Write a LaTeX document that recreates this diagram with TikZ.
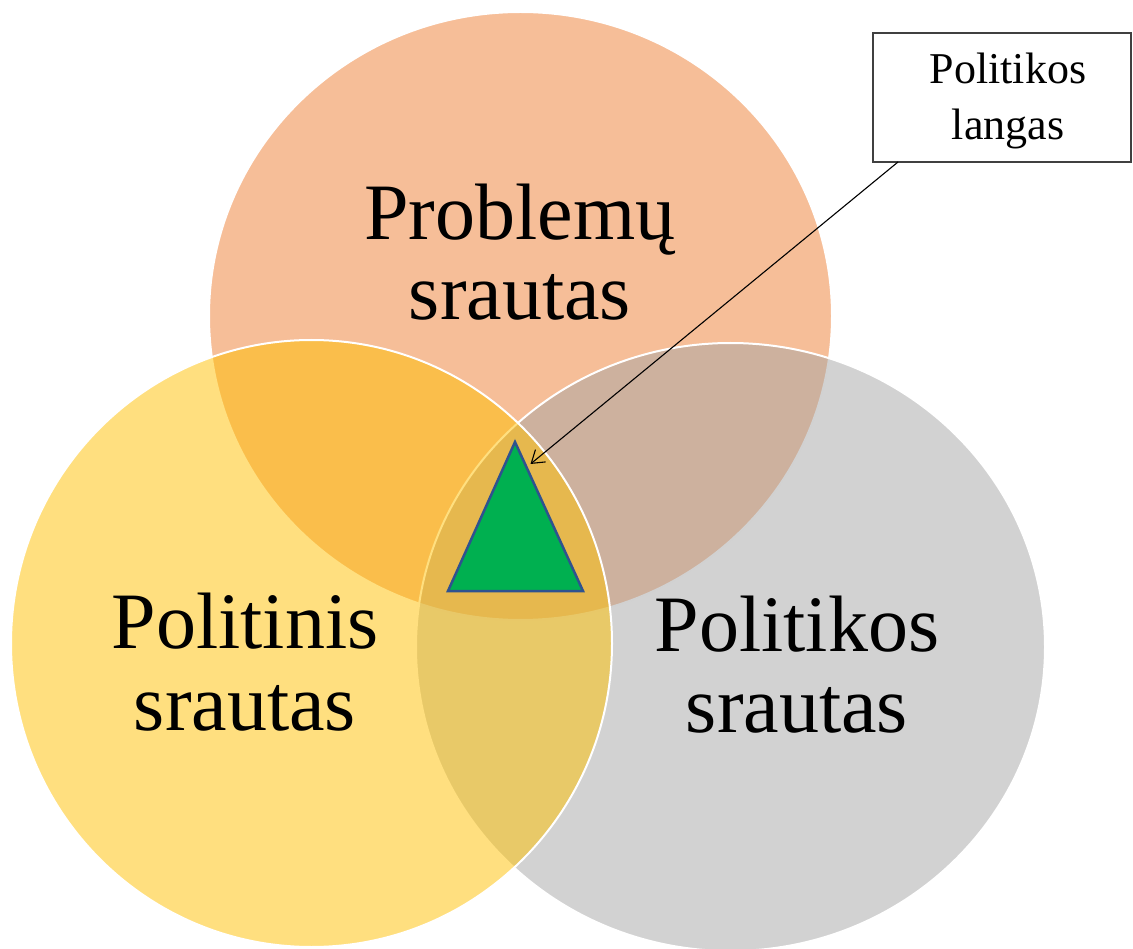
\documentclass[tikz,border=0pt]{standalone}
\usepackage{fontspec}
\setmainfont{Liberation Serif}
\usetikzlibrary{arrows.meta}
\definecolor{corange}{HTML}{ED7D31}
\definecolor{cyellow}{HTML}{FFC000}
\definecolor{cgray}{HTML}{A5A5A5}
\definecolor{cgreen}{HTML}{00B050}
\definecolor{cnavy}{HTML}{2F528F}
\definecolor{cbox}{HTML}{404040}
\tikzset{
  venn/.style={fill opacity=0.5, draw=white, line width=2pt},
  bigtxt/.style={font=\fontsize{80}{80}\selectfont, anchor=base, inner sep=0pt},
  smalltxt/.style={font=\fontsize{44}{56}\selectfont, anchor=base, inner sep=0pt},
  callout/.style={draw=cbox, line width=1.2pt, fill=white},
  pointer/.style={line width=1.1pt, -{Straight Barb[length=12pt,width=16pt,line width=1.1pt]}},
  window/.style={fill=cgreen, draw=cnavy, line width=2.5pt, line join=miter}
}
\begin{document}
\begin{tikzpicture}[x=1pt, y=-1pt]
\useasboundingbox (0,0) rectangle (1133,949);
% circles
\path[venn, fill=corange] (520.5,316) ellipse (311.5pt and 304pt);
\path[venn, fill=cgray] (730.5,647) ellipse (314.5pt and 304pt);
\path[venn, fill=cyellow] (311.5,643.5) ellipse (300.5pt and 303.5pt);
% triangle
\coordinate (ta) at (515,442);
\coordinate (tl) at (448,591);
\coordinate (tr) at (583,591);
\path[window] (ta) -- (tr) -- (tl) -- cycle;
% labels
\node[bigtxt] (p1) at (520,240) {Problemų};
\node[bigtxt] (p2) at (520,320) {srautas};
\node[bigtxt] (l1) at (245,648) {Politinis};
\node[bigtxt] (l2) at (245,730) {srautas};
\node[bigtxt] (r1) at (797,651) {Politikos};
\node[bigtxt] (r2) at (797,732) {srautas};
% callout box
\path[callout] (873,33) rectangle (1131,162);
\node[smalltxt] (b1) at (1008,84) {Politikos};
\node[smalltxt] (b2) at (1008,140) {langas};
\coordinate (start) at (898,162);
\coordinate (tip) at (530.5,464);
\draw[pointer] (start) -- (tip);
\end{tikzpicture}
\end{document}
